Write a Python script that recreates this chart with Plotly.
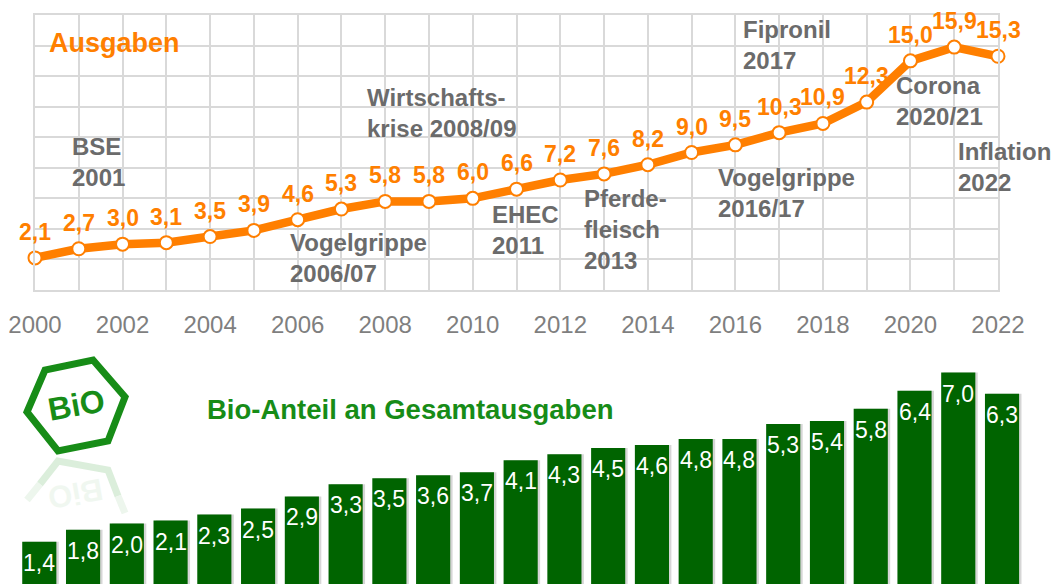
import plotly.graph_objects as go

# ---------------- data ----------------
years = list(range(2000, 2023))
ausgaben = [2.1, 2.7, 3.0, 3.1, 3.5, 3.9, 4.6, 5.3, 5.8, 5.8, 6.0, 6.6, 7.2, 7.6, 8.2,
            9.0, 9.5, 10.3, 10.9, 12.3, 15.0, 15.9, 15.3]
bio_anteil = [1.4, 1.8, 2.0, 2.1, 2.3, 2.5, 2.9, 3.3, 3.5, 3.6, 3.7, 4.1, 4.3, 4.5, 4.6,
              4.8, 4.8, 5.3, 5.4, 5.8, 6.4, 7.0, 6.3]
tick_labels = [str(y) if y % 2 == 0 else "" for y in years]

events = ["BSE<br>2001", "Vogelgrippe<br>2006/07", "Wirtschafts-<br>krise 2008/09",
          "EHEC<br>2011", "Pferde-<br>fleisch<br>2013", "Vogelgrippe<br>2016/17",
          "Fipronil<br>2017", "Corona<br>2020/21", "Inflation<br>2022"]
# label anchor positions (left edge year, vertical centre value)
event_x = [2000.80, 2005.79, 2007.55, 2010.39, 2012.49, 2015.55, 2016.12, 2019.62, 2021.03]
event_y = [8.38, 2.09, 11.58, 3.93, 3.93, 6.35, 16.03, 12.37, 8.05]

W, H = 1053, 584
FONT = "Liberation Sans, Arial, sans-serif"
ORANGE = "#FF7F00"
GREEN_BAR = "#006400"
GREEN_TXT = "#178c17"
GREY_TXT = "#6b6b6b"
GRID = "#d9d9d9"
BAR_W = 0.78


def fmt(v):
    return f"{v:.1f}".replace(".", ",")


fig = go.Figure()

fig.add_trace(go.Scatter(
    x=years, y=ausgaben, xaxis="x", yaxis="y",
    mode="lines+markers",
    line=dict(color=ORANGE, width=8.5),
    marker=dict(size=13, color="white", line=dict(color=ORANGE, width=2)),
    cliponaxis=False, hoverinfo="skip", showlegend=False))

# soft shadow behind the bars
fig.add_trace(go.Bar(
    x=years, y=bio_anteil, xaxis="x2", yaxis="y2",
    width=BAR_W, offset=-BAR_W / 2 + 0.055,
    marker=dict(color="rgba(0,0,0,0.16)", line=dict(width=0)),
    hoverinfo="skip", showlegend=False))
fig.add_trace(go.Bar(
    x=years, y=bio_anteil, xaxis="x2", yaxis="y2",
    width=BAR_W, offset=-BAR_W / 2,
    marker=dict(color=GREEN_BAR, line=dict(width=0)),
    hoverinfo="skip", showlegend=False))

annotations = []
for yr, v in zip(years, ausgaben):
    annotations.append(dict(
        x=yr, y=v, xref="x", yref="y", text=fmt(v), showarrow=False,
        yanchor="middle", xanchor="center", yshift=26,
        font=dict(family=FONT, size=23, color=ORANGE, weight="bold")))

for yr, v in zip(years, bio_anteil):
    annotations.append(dict(
        x=yr, y=v, xref="x2", yref="y2", text=fmt(v), showarrow=False,
        yanchor="middle", xanchor="center", yshift=-21,
        font=dict(family=FONT, size=23, color="white")))

for t, ex, ey in zip(events, event_x, event_y):
    annotations.append(dict(
        x=ex, y=ey, xref="x", yref="y", text=t, showarrow=False,
        xanchor="left", yanchor="middle", align="left",
        font=dict(family=FONT, size=24, color=GREY_TXT, weight="bold")))

annotations.append(dict(
    x=47 / W, y=1 - 43 / H, xref="paper", yref="paper", text="Ausgaben",
    showarrow=False, xanchor="left", yanchor="middle",
    font=dict(family=FONT, size=27, color=ORANGE, weight="bold")))
annotations.append(dict(
    x=205 / W, y=1 - 409 / H, xref="paper", yref="paper",
    text="Bio-Anteil an Gesamtausgaben",
    showarrow=False, xanchor="left", yanchor="middle",
    font=dict(family=FONT, size=27.5, color=GREEN_TXT, weight="bold")))
annotations.append(dict(
    x=76 / W, y=1 - 405 / H, xref="paper", yref="paper", text="BiO",
    showarrow=False, xanchor="center", yanchor="middle", textangle=-10,
    font=dict(family=FONT, size=32, color=GREEN_TXT, weight="bold")))
annotations.append(dict(
    x=76 / W, y=1 - 494 / H, xref="paper", yref="paper", text="BiO",
    showarrow=False, xanchor="center", yanchor="middle", textangle=170,
    opacity=0.06,
    font=dict(family=FONT, size=31, color=GREEN_TXT, weight="bold")))


def px_path(pts, close=True):
    s = "M " + " L ".join(f"{x / W:.5f},{1 - y / H:.5f}" for x, y in pts)
    return s + (" Z" if close else "")


hexagon = [(27, 412), (45, 370), (93, 360), (125, 397), (108, 441), (58, 451)]
shapes = [dict(type="path", xref="paper", yref="paper", path=px_path(hexagon),
               line=dict(color=GREEN_TXT, width=7), layer="above")]
# faded reflection
refl_near = [(40, 484), (58, 461), (108, 470), (118, 496)]
shapes.append(dict(type="path", xref="paper", yref="paper", path=px_path(refl_near, False),
                   line=dict(color="#d3ead3", width=7), opacity=0.8, layer="above"))
refl_far = [(27, 500), (40, 484)]
shapes.append(dict(type="path", xref="paper", yref="paper", path=px_path(refl_far, False),
                   line=dict(color="#e9f4e9", width=7), opacity=0.8, layer="above"))
refl_far2 = [(118, 496), (125, 513)]
shapes.append(dict(type="path", xref="paper", yref="paper", path=px_path(refl_far2, False),
                   line=dict(color="#e9f4e9", width=7), opacity=0.8, layer="above"))

fig.update_layout(
    width=W, height=H, margin=dict(l=0, r=0, t=0, b=0, autoexpand=False),
    paper_bgcolor="white", plot_bgcolor="white", hovermode=False,
    barmode="overlay",
    xaxis=dict(domain=[35 / W, 998 / W], range=[2000, 2022], anchor="y",
               automargin=False,
               tickvals=years, ticktext=tick_labels, showgrid=True,
               gridcolor=GRID, gridwidth=1.5, showline=True, linecolor=GRID,
               linewidth=1.5, mirror=True, zeroline=False, ticks="",
               ticklabelstandoff=12,
               tickfont=dict(family=FONT, size=24, color="#7f7f7f")),
    yaxis=dict(domain=[(H - 290) / H, (H - 15) / H], range=[0, 18], dtick=2,
               automargin=False,
               anchor="x", showticklabels=False, showgrid=True, gridcolor=GRID,
               gridwidth=1.5, showline=True, linecolor=GRID, linewidth=1.5,
               mirror=True, zeroline=False, ticks=""),
    xaxis2=dict(domain=[0, 1], range=[1999.102, 2023.165], anchor="y2",
                automargin=False, visible=False),
    yaxis2=dict(domain=[0, 244 / H], range=[0, 8.08], anchor="x2",
                automargin=False, visible=False),
    annotations=annotations, shapes=shapes,
)

fig.write_html("out.html", config={"displayModeBar": False},
               post_script="document.body.style.margin='0';document.body.style.overflow='hidden';")
